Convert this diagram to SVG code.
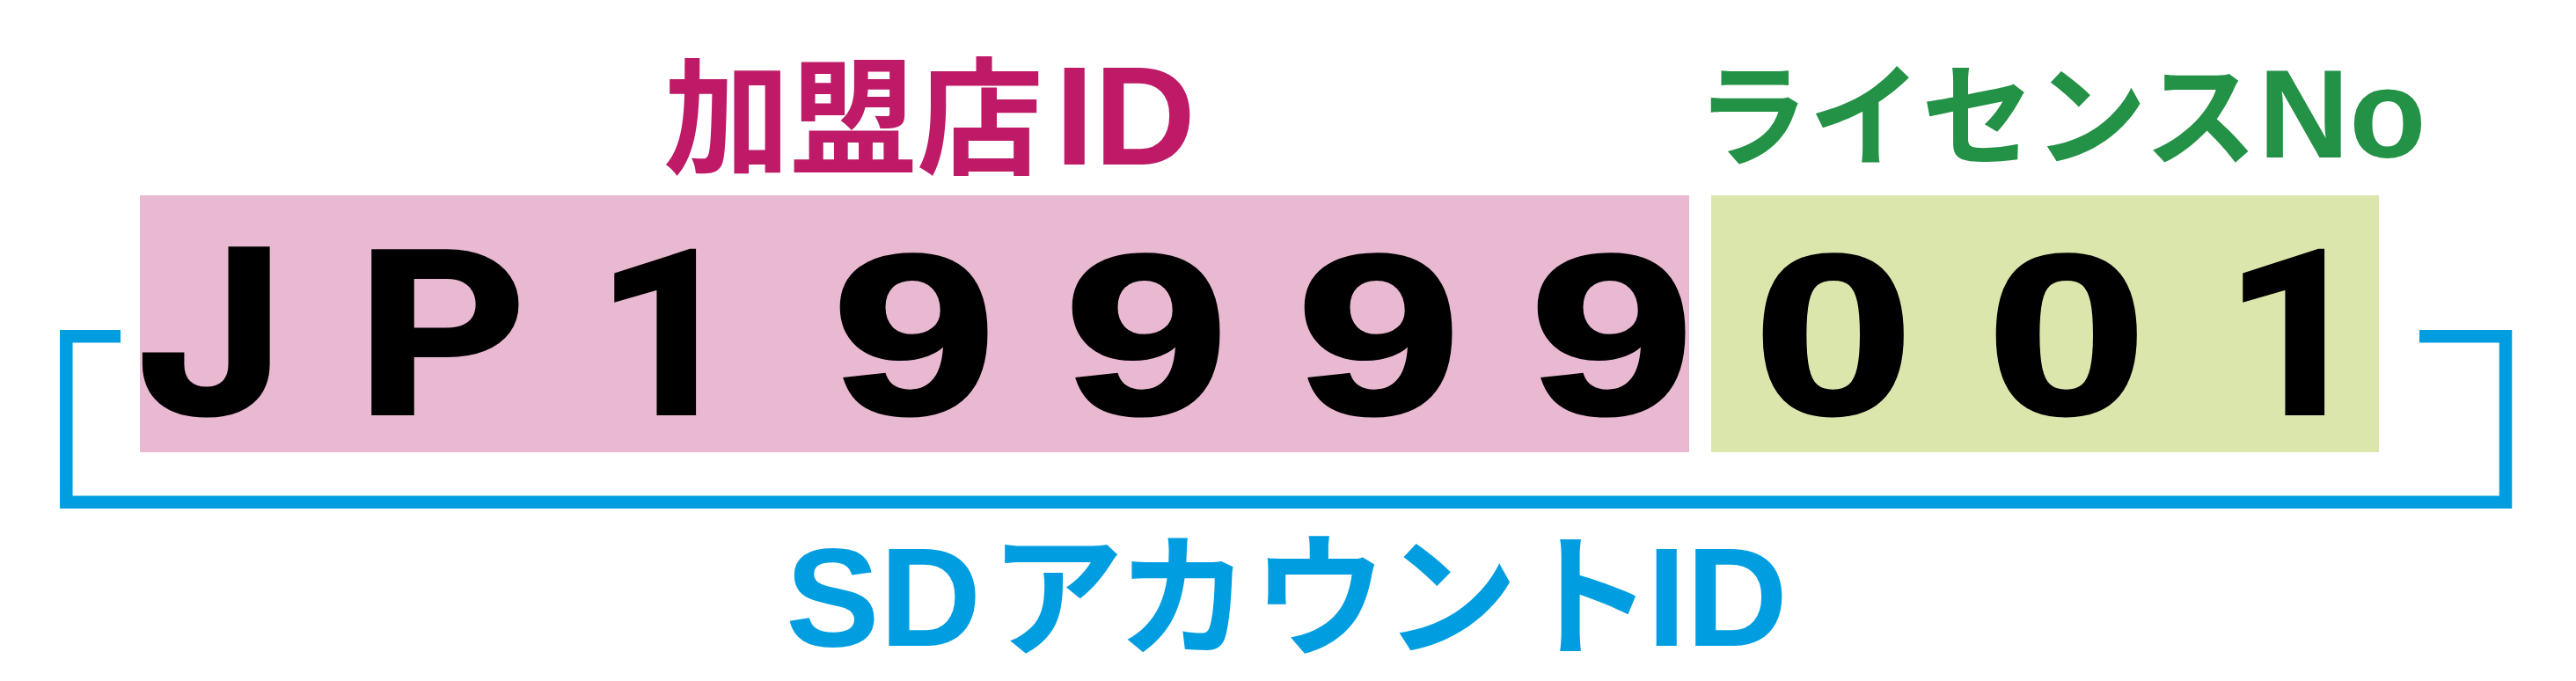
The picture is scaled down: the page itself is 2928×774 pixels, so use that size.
<svg xmlns="http://www.w3.org/2000/svg" width="2928" height="774" viewBox="0 0 2928 774">
<style>
.cjk{font-family:"Noto Sans CJK JP","Noto Sans CJK SC",sans-serif;font-weight:700}
.lat{font-family:"Liberation Sans",Arial,sans-serif;font-weight:700}
.big{font-weight:700;fill:#000;stroke:#000;text-anchor:middle}
.rb{font-family:Roboto,"Liberation Sans",sans-serif;font-size:260px;stroke-width:4}
.it{font-family:Inter,Roboto,sans-serif;font-size:258px;stroke-width:4}
.lb{font-family:"Liberation Sans",Arial,sans-serif;font-size:200px;stroke-width:3}
.mag{fill:#BE1A68}
.grn{fill:#239146}
.blu{fill:#009EE0}
</style>
<rect width="2928" height="774" fill="#FFFFFF"/>
<g id="merchant-id">
<rect x="159" y="222" width="1761" height="292" fill="#E9B8D1"/>
<text class="mag" y="187"><tspan class="cjk" x="754" font-size="144">加盟店</tspan><tspan class="lat" x="1199" font-size="160">ID</tspan></text>
<text class="big it" transform="translate(239,470) scale(1.12,1)">J</text>
<text class="big rb" transform="translate(502,470) scale(1.15,1)">P</text>
<text class="big rb" transform="translate(759,470) scale(1.1,1)">1</text>
<text class="big lb" transform="translate(1039,470) scale(1.68,1.295)">9</text>
<text class="big lb" transform="translate(1303,470) scale(1.68,1.295)">9</text>
<text class="big lb" transform="translate(1567,470) scale(1.68,1.295)">9</text>
<text class="big lb" transform="translate(1832,470) scale(1.68,1.295)">9</text>
</g>
<g id="license-no">
<rect x="1945" y="222" width="759" height="292" fill="#DBE6AC"/>
<text class="grn" y="179"><tspan class="cjk" x="1928" font-size="128">ライセンス</tspan><tspan class="lat" x="2567" font-size="143">No</tspan></text>
<text class="big lb" transform="translate(2084,470) scale(1.632,1.295)">0</text>
<text class="big lb" transform="translate(2349,470) scale(1.632,1.295)">0</text>
<text class="big rb" transform="translate(2610,470) scale(1.1,1)">1</text>
</g>
<g id="sd-account-id">
<text class="blu" y="734"><tspan class="lat" x="893" font-size="160">SD</tspan><tspan class="cjk" x="1125 1269 1424 1573 1727" font-size="152">アカウント</tspan><tspan class="lat" x="1872" font-size="160">ID</tspan></text>
</g>
<g id="connectors">
<path d="M137,382.3 H75.3 V570.8 H2848 V382.3 H2750" fill="none" stroke="#009EE0" stroke-width="14.5" stroke-linejoin="miter"/>
</g>
</svg>
